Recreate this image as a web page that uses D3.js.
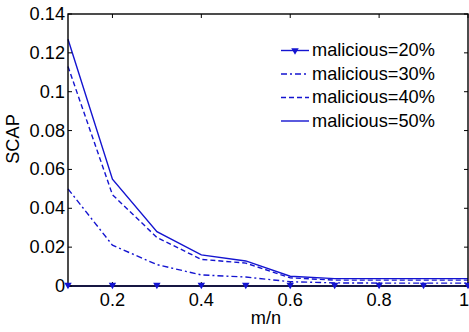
<!DOCTYPE html>
<html>
<head>
<meta charset="utf-8">
<script src="https://cdn.jsdelivr.net/npm/d3@7"></script>
<style>
  body { margin: 0; background: #fff; }
  text { font-family: "Liberation Sans", Arial, sans-serif; fill: #000; }
</style>
</head>
<body>
<div id="chart"></div>
<script>
// m/n values on the x axis
const ratios = [0.1, 0.2, 0.3, 0.4, 0.5, 0.6, 0.7, 0.8, 0.9, 1.0];

// SCAP for each share of malicious nodes
const mal20 = [0, 0, 0, 0, 0, 0, 0, 0, 0, 0];
const mal30 = [0.050, 0.021, 0.011, 0.0057, 0.0046, 0.0022, 0.0016, 0.0015, 0.0015, 0.0015];
const mal40 = [0.113, 0.047, 0.025, 0.0137, 0.0118, 0.0042, 0.0030, 0.0030, 0.0030, 0.0030];
const mal50 = [0.127, 0.055, 0.028, 0.0160, 0.0129, 0.0050, 0.0038, 0.0038, 0.0038, 0.0038];

const seriesNames = ['malicious=20%', 'malicious=30%', 'malicious=40%', 'malicious=50%'];

const xTicks = [0.2, 0.4, 0.6, 0.8, 1.0];
const yTicks = [0, 0.02, 0.04, 0.06, 0.08, 0.1, 0.12, 0.14];

const width = 469, height = 332;
const margin = { top: 14, right: 1, bottom: 46, left: 68 };
const blue = '#1414d0';
const fontSize = '18.2px';

const svg = d3.select('#chart').append('svg')
  .attr('width', width)
  .attr('height', height);

const x = d3.scaleLinear().domain([0.1, 1]).range([margin.left, width - margin.right]);
const y = d3.scaleLinear().domain([0, 0.14]).range([height - margin.bottom, margin.top]);

const series = [
  { name: seriesNames[0], values: mal20, dash: null, marker: true },
  { name: seriesNames[1], values: mal30, dash: '6,3,2,3', marker: false },
  { name: seriesNames[2], values: mal40, dash: '5,3', marker: false },
  { name: seriesNames[3], values: mal50, dash: null, marker: false }
];

// lines
const line = d3.line().x((d, i) => x(ratios[i])).y(d => y(d));

series.slice().reverse().forEach(s => {
  svg.append('path')
    .datum(s.values)
    .attr('d', line)
    .attr('fill', 'none')
    .attr('stroke', blue)
    .attr('stroke-width', 1.4)
    .attr('stroke-dasharray', s.dash);
});

// axes box
const x0 = margin.left, x1 = width - margin.right;
const y0 = height - margin.bottom, y1 = margin.top;
svg.append('rect')
  .attr('x', x0).attr('y', y1)
  .attr('width', x1 - x0).attr('height', y0 - y1)
  .attr('fill', 'none').attr('stroke', '#000').attr('stroke-width', 1.4);

// inward ticks on all four sides
const tickLen = 4;
xTicks.forEach(t => {
  svg.append('line').attr('x1', x(t)).attr('x2', x(t)).attr('y1', y0).attr('y2', y0 - tickLen)
    .attr('stroke', '#000');
  svg.append('line').attr('x1', x(t)).attr('x2', x(t)).attr('y1', y1).attr('y2', y1 + tickLen)
    .attr('stroke', '#000');
  // last label sits at the very edge, keep it inside the window
  const last = t === 1;
  svg.append('text')
    .attr('x', last ? width : x(t)).attr('y', y0 + 20)
    .attr('text-anchor', last ? 'end' : 'middle')
    .style('font-size', fontSize)
    .text(d3.format('~g')(t));
});
yTicks.forEach(t => {
  svg.append('line').attr('x1', x0).attr('x2', x0 + tickLen).attr('y1', y(t)).attr('y2', y(t))
    .attr('stroke', '#000');
  svg.append('line').attr('x1', x1).attr('x2', x1 - tickLen).attr('y1', y(t)).attr('y2', y(t))
    .attr('stroke', '#000');
  svg.append('text')
    .attr('x', x0 - 3).attr('y', y(t) + 6)
    .attr('text-anchor', 'end')
    .style('font-size', fontSize)
    .text(d3.format('~g')(t));
});

// 20% markers (downward triangles)
const tri = d3.symbol().type(d3.symbolTriangle).size(24);
svg.selectAll('.mark')
  .data(mal20)
  .join('path')
  .attr('class', 'mark')
  .attr('d', tri)
  .attr('transform', (d, i) => `translate(${x(ratios[i])},${y(d) - 1}) rotate(180)`)
  .attr('fill', blue);

// axis titles
svg.append('text')
  .attr('x', 266).attr('y', 324)
  .attr('text-anchor', 'middle')
  .style('font-size', fontSize)
  .text('m/n');
svg.append('text')
  .attr('transform', 'translate(19,139) rotate(-90)')
  .attr('text-anchor', 'middle')
  .style('font-size', fontSize)
  .text('SCAP');

// legend
const legend = svg.append('g').attr('transform', 'translate(281,50.5)');
series.forEach((s, i) => {
  const g = legend.append('g').attr('transform', `translate(0,${i * 23.5})`);
  g.append('line')
    .attr('x1', 0).attr('x2', 28).attr('y1', 0).attr('y2', 0)
    .attr('stroke', blue).attr('stroke-width', 1.4)
    .attr('stroke-dasharray', s.dash);
  if (s.marker) {
    g.append('path').attr('d', tri)
      .attr('transform', 'translate(14,0) rotate(180)')
      .attr('fill', blue);
  }
  g.append('text')
    .attr('x', 31).attr('y', 5.8)
    .style('font-size', fontSize)
    .text(s.name);
});
</script>
</body>
</html>
